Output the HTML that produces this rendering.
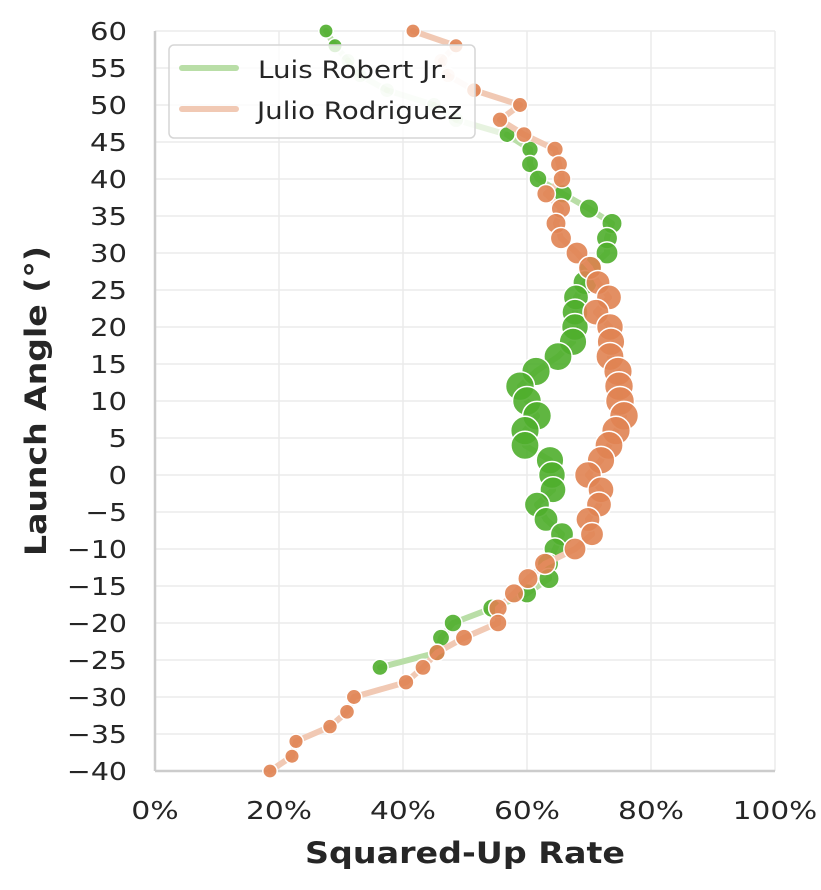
<!DOCTYPE html>
<html><head><meta charset="utf-8"><style>
body{margin:0;background:#fff;}
svg{display:block;font-family:"DejaVu Sans","Liberation Sans",sans-serif;}
</style></head><body>
<svg id="s" width="821" height="890" viewBox="0 0 821 890">
<g id="grid" stroke="#ebebeb" stroke-width="1.5"></g>
<line x1="155" y1="31" x2="155" y2="771" stroke="#ccc" stroke-width="2.5"/>
<line x1="155" y1="771" x2="775" y2="771" stroke="#ccc" stroke-width="2.5"/>
<g id="ticks" fill="#262626" font-size="25"></g>
<g id="data"></g>
<g>
<rect x="169" y="45" width="306" height="93" rx="5" fill="#fff" fill-opacity="0.8" stroke="#d6d6d6" stroke-width="1.5"/>
<line x1="182" y1="68" x2="236" y2="68" stroke="#b9dea7" stroke-width="6" stroke-linecap="round"/>
<line x1="182" y1="109" x2="236" y2="109" stroke="#f1c9b4" stroke-width="6" stroke-linecap="round"/>
<text x="258" y="78" font-size="24" fill="#262626" textLength="190" lengthAdjust="spacingAndGlyphs">Luis Robert Jr.</text>
<text x="257" y="119" font-size="24" fill="#262626" textLength="205" lengthAdjust="spacingAndGlyphs">Julio Rodriguez</text>
</g>
<text x="305" y="863" font-size="29" font-weight="bold" fill="#262626" textLength="320" lengthAdjust="spacingAndGlyphs">Squared-Up Rate</text>
<text transform="translate(46,401) rotate(-90)" x="-155" font-size="29" font-weight="bold" fill="#262626" textLength="310" lengthAdjust="spacingAndGlyphs">Launch Angle (°)</text>
</svg>
<script>
const NS="http://www.w3.org/2000/svg";
function el(p,t,a,txt){const e=document.createElementNS(NS,t);for(const k in a)e.setAttribute(k,a[k]);if(txt!==undefined)e.textContent=txt;p.appendChild(e);return e;}
const Y=a=>31+(60-a)*7.4;
function W(s){let w=0;for(const c of s)w+=c==='\u2212'?23:c==='%'?29:18.5;return w;}
const grid=document.getElementById('grid'),ticks=document.getElementById('ticks');
for(let a=-40;a<=60;a+=5){const y=Y(a);const s=(a<0?'\u2212'+(-a):''+a);const w=W(s);el(grid,'line',{x1:155,x2:775,y1:y,y2:y});el(ticks,'text',{x:127-w,y:y+9,textLength:w,lengthAdjust:'spacingAndGlyphs'},s);}
for(let p=0;p<=100;p+=20){const x=155+p*6.2;const s=p+'%';const w=W(s);el(grid,'line',{x1:x,x2:x,y1:31,y2:771});el(ticks,'text',{x:x-w/2,y:819,textLength:w,lengthAdjust:'spacingAndGlyphs'},s);}
const G={60:326,58:335,56:348,54:360,52:387,50:434,48:456,46:507,44:530,42:530,40:538,38:563,36:589,34:612,32:607,30:607,28:591,26:585,24:576,22:575,20:575,18:573,16:558,14:536,12:520,10:527,8:537,6:525,4:525,2:550,0:552,"-2":553,"-4":537,"-6":546,"-8":562,"-10":555,"-12":548,"-14":549,"-16":527,"-18":492,"-20":453,"-22":441,"-24":437,"-26":380};
const O={60:413,58:456,56:441,54:448,52:474,50:520,48:500,46:524,44:555,42:559,40:562,38:546,36:561,34:556,32:561,30:577,28:590,26:598,24:609,22:596,20:610,18:611,16:610,14:618,12:619,10:620,8:624,6:616,4:609,2:601,0:588,"-2":601,"-4":599,"-6":588,"-8":592,"-10":575,"-12":545,"-14":528,"-16":514,"-18":498,"-20":498,"-22":464,"-24":437,"-26":423,"-28":406,"-30":354,"-32":347,"-34":330,"-36":296,"-38":292,"-40":270};
const data=document.getElementById('data');
function series(D,col,lcol,fadeSet){
 const ks=Object.keys(D).map(Number).sort((a,b)=>b-a);
 for(let i=0;i<ks.length-1;i++){const a=ks[i],b=ks[i+1];const f=fadeSet.includes(a)||fadeSet.includes(b);
  el(data,'line',{x1:D[a],y1:Y(a),x2:D[b],y2:Y(b),stroke:lcol,'stroke-width':6,'stroke-opacity':f?0.35:1,'stroke-linecap':'round'});}
 for(const a of ks){const r=7+7.5*Math.exp(-Math.pow((a-10)/26,2));const f=fadeSet.includes(a);
  el(data,'circle',{cx:D[a],cy:Y(a),r:r,fill:col,'fill-opacity':f?0.2:0.9,stroke:'#fff','stroke-width':1.5});}
}
series(G,'#4fae2c','#b9dea7',[56,54,52,50,48]);
series(O,'#e08352','#f1c9b4',[56,54]);
</script>
</body></html>
